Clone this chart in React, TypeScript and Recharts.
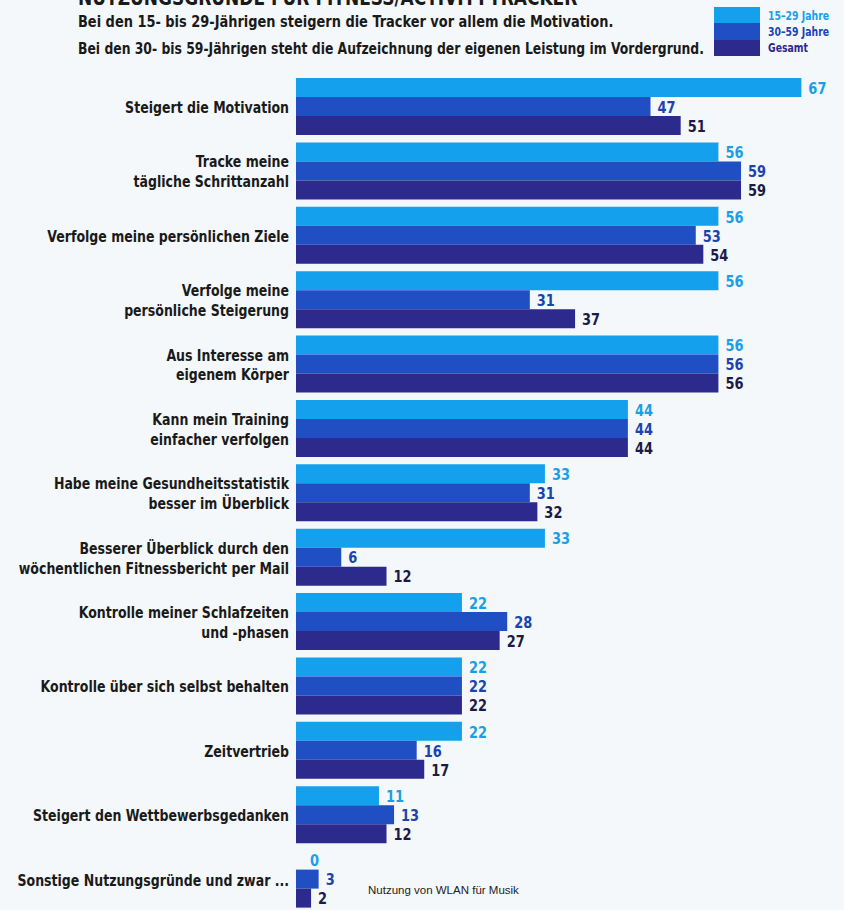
import { BarChart, Bar, XAxis, YAxis, LabelList } from "recharts";

const categories = [
  "Steigert die Motivation",
  "Tracke meine\ntägliche Schrittanzahl",
  "Verfolge meine persönlichen Ziele",
  "Verfolge meine\npersönliche Steigerung",
  "Aus Interesse am\neigenem Körper",
  "Kann mein Training\neinfacher verfolgen",
  "Habe meine Gesundheitsstatistik\nbesser im Überblick",
  "Besserer Überblick durch den\nwöchentlichen Fitnessbericht per Mail",
  "Kontrolle meiner Schlafzeiten\nund -phasen",
  "Kontrolle über sich selbst behalten",
  "Zeitvertrieb",
  "Steigert den Wettbewerbsgedanken",
  "Sonstige Nutzungsgründe und zwar ...",
];
const young = [67, 56, 56, 56, 56, 44, 33, 33, 22, 22, 22, 11, 0];
const middle = [47, 59, 53, 31, 56, 44, 31, 6, 28, 22, 16, 13, 3];
const total = [51, 59, 54, 37, 56, 44, 32, 12, 27, 22, 17, 12, 2];

const FONT = '"Liberation Sans Narrow", "DejaVu Sans Condensed", "Roboto", sans-serif';
const C_YOUNG = "#14a0ec";
const C_MID = "#1f4fc3";
const C_TOTAL = "#2c2a8c";
const L_YOUNG = "#1a9fe6";
const L_MID = "#1a44b0";
const L_TOTAL = "#1c1b48";
const SQUEEZE = 0.9;

const data = categories.map((name, i) => ({
  name,
  young: young[i],
  middle: middle[i],
  total: total[i],
}));

function CategoryTick(props: any) {
  const { y, payload } = props;
  const lines = String(payload.value).split("\n");
  const lh = 20;
  const start = -((lines.length - 1) * lh) / 2;
  return (
    <g transform={`translate(289,${y}) scale(${SQUEEZE},1)`}>
      <text x={0} y={start} textAnchor="end" fontFamily={FONT} fontWeight={700} fontSize={15.5} fill="#1a1a1a">
        {lines.map((l, i) => (
          <tspan key={i} x={0} y={start + i * lh} dominantBaseline="central">
            {l}
          </tspan>
        ))}
      </text>
    </g>
  );
}

const num = (x: number, y: number, color: string, value: any) => (
  <g transform={`translate(${x},${y}) scale(${SQUEEZE},1)`}>
    <text x={0} y={0} dominantBaseline="central" fontFamily={FONT} fontWeight={700} fontSize={16} fill={color}>
      {value}
    </text>
  </g>
);

const valueLabel = (color: string) => (props: any) => {
  const { x, y, width, height, value } = props;
  return num(x + width + 7, y + height / 2 + 1, color, value);
};

// the 0 bar of the youngest group draws no rectangle, so its label hangs off the bar below it
const middleLabel = (props: any) => {
  const { x, y, width, height, value, index } = props;
  return (
    <g>
      {num(x + width + 7, y + height / 2 + 1, L_MID, value)}
      {young[index] === 0 && num(x + 14, y - height / 2 + 1, L_YOUNG, young[index])}
    </g>
  );
};

const squeezed = (k: number) => ({ transform: `scaleX(${k})`, transformOrigin: "left top" });

export default function App() {
  return (
    <div
      style={{
        position: "fixed",
        left: 0,
        top: 0,
        width: 844,
        height: 910,
        overflow: "hidden",
        background: "#f4f8fa",
        fontFamily: FONT,
      }}
    >
      <div style={{ position: "absolute", left: 78, top: -14, fontSize: 21, fontWeight: 700, color: "#1a1a1a", whiteSpace: "nowrap", ...squeezed(SQUEEZE) }}>
        NUTZUNGSGRÜNDE FÜR FITNESS/ACTIVITY-TRACKER
      </div>
      <div style={{ position: "absolute", left: 78, top: 12, fontSize: 16, fontWeight: 700, color: "#1a1a1a", whiteSpace: "nowrap", ...squeezed(SQUEEZE) }}>
        Bei den 15- bis 29-Jährigen steigern die Tracker vor allem die Motivation.
      </div>
      <div style={{ position: "absolute", left: 78, top: 39, fontSize: 16, fontWeight: 700, color: "#1a1a1a", whiteSpace: "nowrap", ...squeezed(0.86) }}>
        Bei den 30- bis 59-Jährigen steht die Aufzeichnung der eigenen Leistung im Vordergrund.
      </div>
      <div style={{ position: "absolute", left: 714, top: 7, width: 46, height: 49 }}>
        <div style={{ height: 16, background: C_YOUNG }} />
        <div style={{ height: 17, background: C_MID }} />
        <div style={{ height: 16, background: C_TOTAL }} />
      </div>
      <div style={{ position: "absolute", left: 768, top: 8, fontSize: 11.5, fontWeight: 700, lineHeight: "16px", whiteSpace: "nowrap", ...squeezed(SQUEEZE) }}>
        <div style={{ color: L_YOUNG }}>15–29 Jahre</div>
        <div style={{ color: L_MID }}>30–59 Jahre</div>
        <div style={{ color: C_TOTAL }}>Gesamt</div>
      </div>
      <div style={{ position: "absolute", left: 0, top: 0 }}>
        <BarChart
          width={844}
          height={920}
          data={data}
          layout="vertical"
          margin={{ top: 75, right: 20, bottom: 8, left: 0 }}
          barGap={0}
          barCategoryGap={3}
        >
          <XAxis type="number" domain={[0, 70]} hide />
          <YAxis
            type="category"
            dataKey="name"
            width={296}
            axisLine={false}
            tickLine={false}
            tick={<CategoryTick />}
            interval={0}
          />
          <Bar dataKey="young" fill={C_YOUNG} isAnimationActive={false}>
            <LabelList dataKey="young" content={valueLabel(L_YOUNG)} />
          </Bar>
          <Bar dataKey="middle" fill={C_MID} isAnimationActive={false}>
            <LabelList dataKey="middle" content={middleLabel} />
          </Bar>
          <Bar dataKey="total" fill={C_TOTAL} isAnimationActive={false}>
            <LabelList dataKey="total" content={valueLabel(L_TOTAL)} />
          </Bar>
        </BarChart>
      </div>
      <div style={{ position: "absolute", left: 368, top: 884, fontSize: 11.5, fontFamily: '"Liberation Sans", Arial, sans-serif', color: "#222", whiteSpace: "nowrap" }}>
        Nutzung von WLAN für Musik
      </div>
    </div>
  );
}
